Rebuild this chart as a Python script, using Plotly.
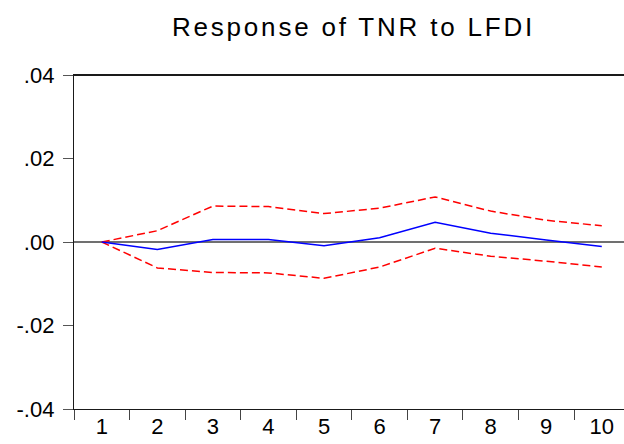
import plotly.graph_objects as go

periods = ["1", "2", "3", "4", "5", "6", "7", "8", "9", "10"]
response = [0.0, -0.0018, 0.0006, 0.0006, -0.0009, 0.0010, 0.0047, 0.0021, 0.0005, -0.0011]
upper = [0.0, 0.0027, 0.0086, 0.0085, 0.0068, 0.0081, 0.0108, 0.0074, 0.0052, 0.0039]
lower = [0.0, -0.0062, -0.0073, -0.0074, -0.0087, -0.0060, -0.0015, -0.0034, -0.0046, -0.0060]
y_tickvals = [0.04, 0.02, 0.0, -0.02, -0.04]
y_ticktext = [".04", ".02", ".00", "-.02", "-.04"]
title = "Response of TNR to LFDI"

fig = go.Figure()
fig.add_trace(go.Scatter(x=periods, y=upper, mode="lines",
                         line=dict(color="#ff0000", width=1.5, dash="8px,4px")))
fig.add_trace(go.Scatter(x=periods, y=lower, mode="lines",
                         line=dict(color="#ff0000", width=1.5, dash="8px,4px")))
fig.add_trace(go.Scatter(x=periods, y=response, mode="lines",
                         line=dict(color="#0000ff", width=1.5)))

font = "Liberation Sans, Arial, sans-serif"
fig.update_layout(
    width=624, height=444,
    margin=dict(l=74, r=0, t=75, b=35),
    paper_bgcolor="white", plot_bgcolor="white",
    showlegend=False,
    title=dict(text='<span style="letter-spacing:2.8px">' + title + '</span>',
               x=(172 + 535) / 2 / 624, xanchor="center",
               y=1 - 26.5 / 444, yanchor="middle", yref="container",
               font=dict(family=font, size=26, color="black")),
    font=dict(family=font, color="black"),
)
fig.update_xaxes(
    type="category", range=[-0.5, 9.4], tickson="boundaries",
    showgrid=False, zeroline=False,
    showline=True, linecolor="#1a1a1a", linewidth=1, mirror=True,
    ticks="outside", ticklen=10, tickcolor="#444", tickwidth=1,
    tickfont=dict(family=font, size=22, color="black"),
    ticklabelstandoff=-2,
)
fig.update_yaxes(
    range=[-0.04, 0.04], tickvals=y_tickvals, ticktext=y_ticktext,
    showgrid=False, zeroline=True, zerolinecolor="#707070", zerolinewidth=1.6,
    showline=True, linecolor="#1a1a1a", linewidth=1.3,
    ticks="outside", ticklen=10, tickcolor="#555", tickwidth=1,
    tickfont=dict(family=font, size=22, color="black"),
    ticklabelstandoff=4,
)
fig.add_shape(type="line", xref="paper", yref="paper", x0=0, x1=1, y0=1, y1=1,
              line=dict(color="#1a1a1a", width=2))

fig.write_html("out.html", config={"displayModeBar": False},
               post_script="document.body.style.margin='0';")
